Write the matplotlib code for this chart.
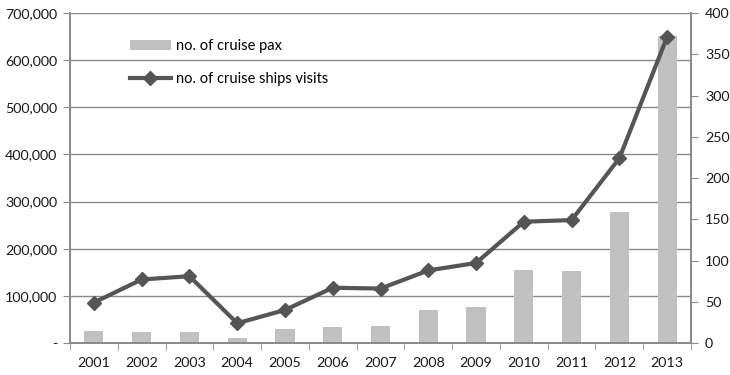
import matplotlib.pyplot as plt
import numpy as np
from matplotlib.ticker import FuncFormatter

years = ["2001", "2002", "2003", "2004", "2005", "2006", "2007",
         "2008", "2009", "2010", "2011", "2012", "2013"]
cruise_pax = [25000, 23500, 23000, 10500, 29500, 33000, 36500,
              70000, 77000, 155000, 153500, 278500, 651000]
ship_visits = [49, 77, 81, 24, 40, 67, 66, 88, 97, 147, 149, 224, 371]

plt.rcParams["font.family"] = ["Lato", "DejaVu Sans"]
grey = "#898989"

fig = plt.figure(figsize=(7.3, 3.75), dpi=100)
ax = fig.add_axes([0.0959, 0.0853, 0.8507, 0.88])
ax2 = ax.twinx()

x = np.arange(len(years))
ax.bar(x, cruise_pax, width=0.4, color="#c0c0c0", zorder=2,
       label="no. of cruise pax")
ax2.plot(x, ship_visits, color="#555555", lw=3, marker="D", ms=7.5,
         zorder=3, label="no. of cruise ships visits")

ax.set_xlim(-0.5, len(years) - 0.5)
ax.set_ylim(0, 700000)
ax.set_yticks(np.arange(0, 700001, 100000))
ax.yaxis.set_major_formatter(
    FuncFormatter(lambda v, p: "-" if v == 0 else f"{int(v):,}"))
ax2.set_ylim(0, 400)
ax2.set_yticks(np.arange(0, 401, 50))

ax.set_xticks(x)
ax.set_xticklabels(years)
ax.set_xticks(np.arange(-0.5, len(years), 1), minor=True)
ax.tick_params(axis="x", which="major", length=0, pad=10)
ax.tick_params(axis="x", which="minor", length=5, color=grey)
ax.tick_params(axis="y", length=5, color=grey, pad=4)
ax2.tick_params(axis="y", length=5, color=grey, pad=5)
for a in (ax, ax2):
    a.tick_params(labelsize=10.3, labelcolor="#1a1a1a")

ax.grid(axis="y", color=grey, lw=1, zorder=0)
ax.set_axisbelow(True)
for a in (ax, ax2):
    a.spines["top"].set_visible(False)
    for s in ("left", "right", "bottom"):
        a.spines[s].set_color(grey)
        a.spines[s].set_linewidth(1.2)

h1, l1 = ax.get_legend_handles_labels()
h2, l2 = ax2.get_legend_handles_labels()
ax2.legend(h1 + h2, l1 + l2, loc="upper left", bbox_to_anchor=(0.075, 0.96),
           frameon=False, fontsize=10.5, handlelength=2.8, labelspacing=1.3,
           handletextpad=0.4)

fig.savefig("out.png", dpi=100)
